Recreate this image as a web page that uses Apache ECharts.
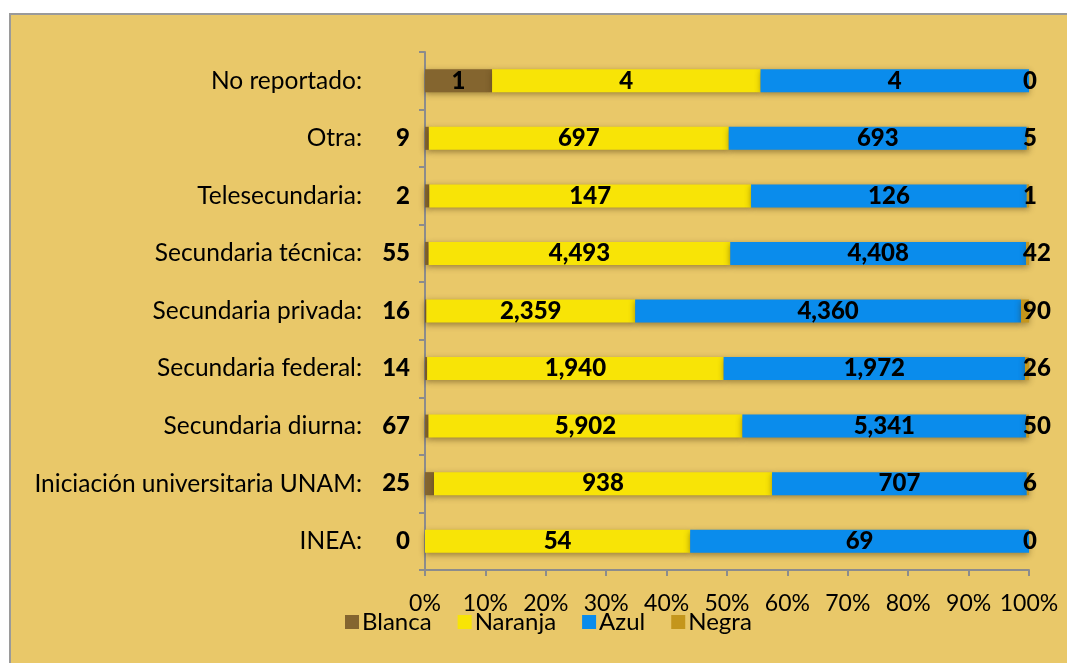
<!DOCTYPE html>
<html>
<head>
<meta charset="utf-8">
<script src="https://cdn.jsdelivr.net/npm/echarts@6/dist/echarts.min.js"></script>
<style>
html,body{margin:0;padding:0;background:#fff;}
#frame{position:absolute;left:9px;top:13px;width:1058px;height:650px;background:#E9C869;border-left:2px solid #9a9a9a;border-top:2px solid #9a9a9a;box-sizing:border-box;}
#chart{position:absolute;left:0;top:0;width:1067px;height:663px;}
</style>
</head>
<body>
<div id="frame"></div>
<div id="chart"></div>
<script>
const categories = ['INEA:', 'Iniciación universitaria UNAM:', 'Secundaria diurna:', 'Secundaria federal:', 'Secundaria privada:', 'Secundaria técnica:', 'Telesecundaria:', 'Otra:', 'No reportado:'];
const blanca  = [0, 25, 67, 14, 16, 55, 2, 9, 1];
const naranja = [54, 938, 5902, 1940, 2359, 4493, 147, 697, 4];
const azul    = [69, 707, 5341, 1972, 4360, 4408, 126, 693, 4];
const negra   = [0, 6, 50, 26, 90, 42, 1, 5, 0];
const xTicks = [0, 10, 20, 30, 40, 50, 60, 70, 80, 90, 100];

const totals = categories.map((c, i) => blanca[i] + naranja[i] + azul[i] + negra[i]);
const pct = arr => arr.map((v, i) => v / totals[i] * 100);
const fmt = v => v.toLocaleString('en-US');

const FONT = 'Lato';
const shadow = {shadowColor: 'rgba(60,40,0,0.45)', shadowBlur: 6, shadowOffsetY: 2};

function mk(name, raw, color, labelFn) {
  return {
    name: name, type: 'bar', stack: 'total', barWidth: '40%',
    itemStyle: Object.assign({color: color}, shadow),
    data: pct(raw).map((v, i) => ({value: v, label: labelFn(i)})),
    label: {show: true, color: '#000', fontFamily: FONT, fontWeight: 900, fontSize: 24,
      formatter: p => fmt(raw[p.dataIndex])},
    emphasis: {disabled: true}
  };
}

const chart = echarts.init(document.getElementById('chart'), null, {renderer: 'canvas'});
chart.setOption({
  backgroundColor: 'transparent',
  animation: false,
  grid: {left: 425, right: 38, top: 52, bottom: 93, containLabel: false},
  legend: {
    top: 605, left: 340, itemWidth: 14, itemHeight: 14, itemGap: 26,
    icon: 'rect',
    textStyle: {fontFamily: FONT, fontSize: 24, color: '#000', padding: [0, 0, 0, -2]},
    data: ['Blanca', 'Naranja', 'Azul', 'Negra']
  },
  xAxis: {
    type: 'value', min: xTicks[0], max: xTicks[xTicks.length - 1], interval: 10,
    axisLine: {show: true, lineStyle: {color: '#8c8c8c', width: 2}},
    axisTick: {show: true, length: 6, lineStyle: {color: '#8c8c8c', width: 2}},
    splitLine: {show: false},
    axisLabel: {fontFamily: FONT, fontSize: 23, color: '#000', margin: 22, formatter: '{value}%'}
  },
  yAxis: {
    type: 'category', data: categories,
    axisLine: {show: true, lineStyle: {color: '#8c8c8c', width: 2}},
    axisTick: {show: true, length: 6, alignWithLabel: false, lineStyle: {color: '#8c8c8c', width: 2}},
    axisLabel: {fontFamily: FONT, fontSize: 24.5, color: '#000', margin: 63}
  },
  series: [
    mk('Blanca', blanca, '#84652F', i => i === categories.length - 1 ? {position: 'inside'} : {position: 'left', distance: 15}),
    mk('Naranja', naranja, '#F8E406', i => ({position: 'inside'})),
    mk('Azul', azul, '#0A8CEC', i => ({position: 'inside'})),
    mk('Negra', negra, '#C4961C', i => ({position: 'right', distance: -6}))
  ]
});
</script>
</body>
</html>
